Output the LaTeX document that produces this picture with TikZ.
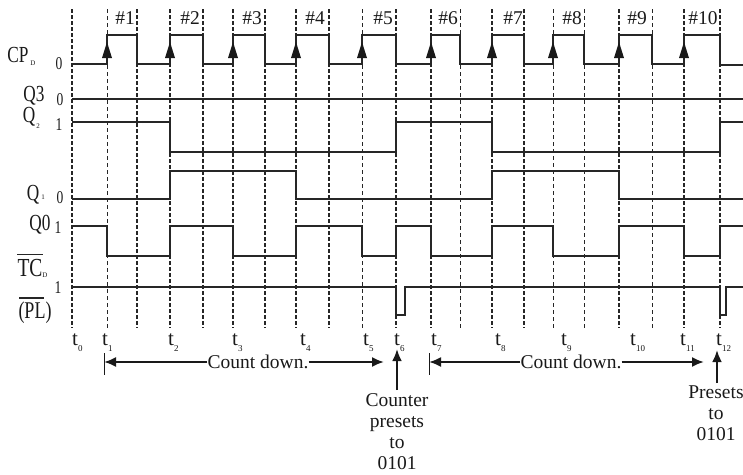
\documentclass[tikz,border=0pt]{standalone}
\usepackage{fontspec}
\setmainfont{Liberation Serif}
\newfontfamily\nar{Liberation Serif}[FakeStretch=0.75]
\usetikzlibrary{arrows.meta}
\newcommand\tsub[1]{t\kern0.2pt\raisebox{-6pt}{\fontsize{9}{9}\selectfont #1}}
\tikzset{
  sig/.style={line width=1.5pt, draw=black!85, line join=miter},
  gridb/.style={line width=1.7pt, draw=black!85, dash pattern=on 3.5pt off 2.5pt},
  gridt/.style={line width=0.7pt, draw=black!85, dash pattern=on 4pt off 3pt},
  txt/.style={inner sep=0pt, text=black!90, font=\fontsize{19.5}{21}\selectfont},
  lbl/.style={inner sep=0pt, text=black!90, font=\nar\fontsize{23}{23}\selectfont},
  lvl/.style={inner sep=0pt, text=black!90, font=\nar\fontsize{18}{18}\selectfont},
  sub/.style={inner sep=0pt, text=black!90, font=\fontsize{7}{7}\selectfont},
  tl/.style={inner sep=0pt, anchor=base west, text=black!90, font=\fontsize{21}{21}\selectfont},
  arr/.style={line width=2pt, draw=black!90, -{Latex[length=12pt,width=10pt]}},
  ovl/.style={line width=1.4pt, draw=black!85},
}
\begin{document}
\begin{tikzpicture}[x=1pt,y=-1pt]
\useasboundingbox (0,0) rectangle (743,474);
% grid lines
\foreach \x in {72,137,170,203,233,265,296,329,396,431,492,524,619,684,720}
  \draw[gridb] (\x,9) -- (\x,328);
\foreach \x in {107,362,460,553,584,652}
  \draw[gridt] (\x,9) -- (\x,328);
% clock numbers
\foreach \x/\n in {125/1,190/2,252/3,315/4,383/5,448/6,513/7,572/8,637/9,703/10}
  \node[txt, anchor=base] (n\n) at (\x,24) {\#\n};
% CP_D
\draw[sig] (72,64) -- (107,64) -- (107,35) -- (137,35) -- (137,64)
  -- (170,64) -- (170,35) -- (203,35) -- (203,64)
  -- (233,64) -- (233,35) -- (265,35) -- (265,64)
  -- (296,64) -- (296,35) -- (329,35) -- (329,64)
  -- (362,64) -- (362,35) -- (396,35) -- (396,64)
  -- (431,64) -- (431,35) -- (460,35) -- (460,64)
  -- (492,64) -- (492,35) -- (524,35) -- (524,64)
  -- (553,64) -- (553,35) -- (584,35) -- (584,64)
  -- (619,64) -- (619,35) -- (652,35) -- (652,64)
  -- (684,64) -- (684,35) -- (720,35) -- (720,65) -- (743,65);
\foreach \x in {107,170,233,296,362,431,492,553,619,684}
  \fill[black!90] (\x-5,58) -- (\x,42) -- (\x+5,58) -- cycle;
% Q3
\draw[sig, line width=2.2pt] (72,99) -- (743,99);
% Q2
\draw[sig] (72,122) -- (170,122) -- (170,152) -- (396,152) -- (396,122)
  -- (492,122) -- (492,152) -- (720,152) -- (720,122) -- (743,122);
% Q1
\draw[sig] (72,199) -- (170,199) -- (170,171) -- (296,171) -- (296,199)
  -- (492,199) -- (492,171) -- (619,171) -- (619,199) -- (743,199);
% Q0
\draw[sig] (72,226) -- (107,226) -- (107,256) -- (170,256) -- (170,226)
  -- (233,226) -- (233,256) -- (296,256) -- (296,226) -- (362,226)
  -- (362,256) -- (396,256) -- (396,226) -- (431,226) -- (431,256)
  -- (492,256) -- (492,226) -- (553,226) -- (553,256) -- (619,256)
  -- (619,226) -- (684,226) -- (684,256) -- (720,256) -- (720,226) -- (743,226);
% PL
\draw[sig, line width=1.3pt] (72,287) -- (396,287) -- (396,315) -- (405,315) -- (405,287)
  -- (720,287) -- (720,315) -- (726,315) -- (726,287) -- (743,287);
% left labels
\node[lbl, anchor=base] (cpl) at (18,62) {CP};
\node[sub] (cpd) at (33,63) {D};
\node[lvl, anchor=base] (v0) at (59,69) {0};
\node[lbl, anchor=base] (q3l) at (34,101) {Q3};
\node[lvl, anchor=base] (v1) at (60,105) {0};
\node[lbl, anchor=base] (q2l) at (29,122) {Q};
\node[sub] (q2s) at (38,126) {2};
\node[lvl, anchor=base] (v2) at (59,130) {1};
\node[lbl, anchor=base] (q1l) at (33,200) {Q};
\node[sub] (q1s) at (43,197) {1};
\node[lvl, anchor=base] (v3) at (60,203) {0};
\node[lbl, anchor=base] (q0l) at (40,230) {Q0};
\node[lvl, anchor=base] (v4) at (58,233) {1};
\node[lbl, anchor=base, font=\nar\fontsize{26}{26}\selectfont] (tcl) at (30,276) {TC};
\node[sub] (tcd) at (45,275) {D};
\draw[ovl] ([yshift=4pt]tcl.north west) -- ([yshift=4pt]tcl.north east);
\node[lvl, anchor=base] (v5) at (58,293) {1};
\node[lbl, anchor=base, font=\nar\fontsize{24}{24}\selectfont] (pll) at (35,318) {(PL)};
\draw[ovl] ([xshift=1pt,yshift=3pt]pll.north west) -- ([xshift=-8pt,yshift=3pt]pll.north east);
% t labels
\foreach \x/\n in {72/0,102/1,168/2,232/3,300/4,363/5,394/6,431/7,495/8,561/9,630/10,680/11,716/12}
  \node[tl] (t\n) at (\x,345) {\tsub{\n}};
% count down arrows
\node[txt] (cd1) at (258,362) {Count down.};
\coordinate (b1) at (104,362);
\coordinate (e1) at (384,362);
\draw[line width=1pt, draw=black!90] ([yshift=9pt]b1) -- ([yshift=-13pt]b1);
\draw[arr] (cd1.west) -- (b1);
\draw[arr] (cd1.east) -- (e1);
\node[txt] (cd2) at (571,362) {Count down.};
\coordinate (b2) at (429,362);
\coordinate (e2) at (704,362);
\draw[line width=1pt, draw=black!90] ([yshift=9pt]b2) -- ([yshift=-13pt]b2);
\draw[arr] (cd2.west) -- (b2);
\draw[arr] (cd2.east) -- (e2);
% preset notes
\node[txt, align=center, anchor=north] (cnt) at (397,393) {Counter\\presets\\to\\0101};
\coordinate (tip6) at (397,349);
\draw[arr, line width=2.4pt] ([yshift=3pt]cnt.north) -- (tip6);
\node[txt, align=center, anchor=north] (pre) at (716,386) {Presets\\to\\0101};
\coordinate (tip12) at (717,350);
\draw[arr, line width=2.4pt] ([xshift=1pt,yshift=3pt]pre.north) -- (tip12);
\end{tikzpicture}
\end{document}
